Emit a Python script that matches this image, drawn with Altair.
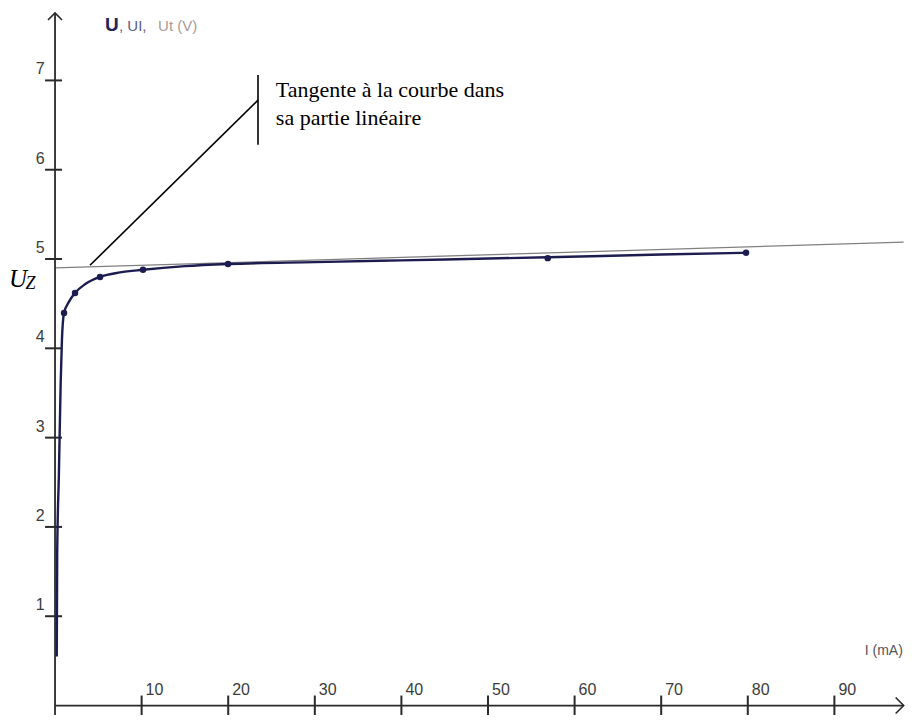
import altair as alt
import pandas as pd

# ---- data ----
I_meas = [1.04, 2.31, 5.2, 10.16, 19.98, 56.9, 79.8]
U_meas = [4.395, 4.62, 4.80, 4.88, 4.944, 5.01, 5.07]

I_curve = [0.2, 0.25, 0.45, 0.65, 0.8, 1.04, 1.6, 2.31, 3.5, 5.2, 7.5, 10.16,
           15, 19.98, 30, 40, 56.9, 70, 79.8]
U_curve = [0.55, 1.7, 2.6, 3.6, 4.1, 4.395, 4.52, 4.62, 4.72, 4.80, 4.85, 4.88,
           4.92, 4.944, 4.965, 4.985, 5.02, 5.05, 5.07]

I_tangent = [0, 98]
U_tangent = [4.90, 5.19]

x_ticks = [10, 20, 30, 40, 50, 60, 70, 80, 90]
y_ticks = [1, 2, 3, 4, 5, 6, 7]

x_title = "I (mA)"
title_parts = ["U", ", UI,", "Ut (V)"]
note_lines = ["Tangente à la courbe dans", "sa partie linéaire"]

W, H = 898, 707
XD = [-5.43, 98.27]
YD = [-0.106, 7.811]

AX = "#2a2a2a"
NAVY = "#1c1c50"
LBL = "#3c3c3c"


def X(f="I"):
    return alt.X(f"{f}:Q", scale=alt.Scale(domain=XD, nice=False, zero=False), axis=None)


def Y(f="U"):
    return alt.Y(f"{f}:Q", scale=alt.Scale(domain=YD, nice=False, zero=False), axis=None)


# axes lines
axes_df = pd.DataFrame({"I": [0, 0], "U": [-0.2, 0], "I2": [0, 98.0], "U2": [7.755, 0]})
axes = alt.Chart(axes_df).mark_rule(color=AX, strokeWidth=1.8).encode(
    x=X(), y=Y(), x2="I2:Q", y2="U2:Q")

arr_y = alt.Chart(pd.DataFrame({"I": [0], "U": [7.755]})).mark_point(
    shape="M-1,1L0,0L1,1", size=196, filled=False, color=AX, strokeWidth=1.6, opacity=1
).encode(x=X(), y=Y())
arr_x = alt.Chart(pd.DataFrame({"I": [98.0], "U": [0]})).mark_point(
    shape="M-1,-1L0,0L-1,1", size=256, filled=False, color=AX, strokeWidth=1.6, opacity=1
).encode(x=X(), y=Y())

# ticks
xt_df = pd.DataFrame({"I": x_ticks, "U": [0] * len(x_ticks), "lab": [str(v) for v in x_ticks]})
yt_df = pd.DataFrame({"I": [-0.17] * len(y_ticks), "U": y_ticks, "lab": [str(v) for v in y_ticks]})
xtick = alt.Chart(xt_df).mark_tick(orient="vertical", size=20, thickness=2, color=AX, opacity=1).encode(x=X(), y=Y())
ytick = alt.Chart(yt_df).mark_tick(orient="horizontal", size=17, thickness=2, color=AX, opacity=1).encode(x=X(), y=Y())
xlab = alt.Chart(xt_df).mark_text(align="left", baseline="alphabetic", dx=4, dy=-11,
                                  font="Liberation Sans", fontSize=16, color=LBL).encode(x=X(), y=Y(), text="lab:N")
ylab = alt.Chart(yt_df).mark_text(align="right", baseline="alphabetic", dx=-9, dy=-6,
                                  font="Liberation Sans", fontSize=16, color=LBL).encode(x=X(), y=Y(), text="lab:N")

xtitle = alt.Chart(pd.DataFrame({"I": [97.9], "U": [0.565], "t": [x_title]})).mark_text(
    align="right", baseline="alphabetic", font="Liberation Sans", fontSize=14, color="#555555"
).encode(x=X(), y=Y(), text="t:N")

# title pieces
t_df = pd.DataFrame({"I": [5.77, 7.39, 11.9], "U": [7.553] * 3, "t": title_parts})
t1 = alt.Chart(t_df.iloc[[0]]).mark_text(align="left", baseline="alphabetic", font="Liberation Sans",
                                          fontSize=19, fontWeight="bold", color="#23235a").encode(x=X(), y=Y(), text="t:N")
t2 = alt.Chart(t_df.iloc[[1]]).mark_text(align="left", baseline="alphabetic", font="Liberation Sans",
                                          fontSize=15, color="#5c5c82").encode(x=X(), y=Y(), text="t:N")
t3 = alt.Chart(t_df.iloc[[2]]).mark_text(align="left", baseline="alphabetic", font="Liberation Sans",
                                          fontSize=15, color="#a89a9a").encode(x=X(), y=Y(), text="t:N")

# tangent & curve
tan = alt.Chart(pd.DataFrame({"I": I_tangent, "U": U_tangent})).mark_line(
    color="#808080", strokeWidth=1.3).encode(x=X(), y=Y())
curve = alt.Chart(pd.DataFrame({"I": I_curve, "U": U_curve})).mark_line(
    color=NAVY, strokeWidth=2.4, interpolate="monotone").encode(x=X(), y=Y(), order="I:Q")
pts = alt.Chart(pd.DataFrame({"I": I_meas, "U": U_meas})).mark_circle(
    color=NAVY, size=42, opacity=1).encode(x=X(), y=Y())

# annotation
ann_df = pd.DataFrame({"I": [4.04, 23.44], "U": [4.93, 7.06], "I2": [23.44, 23.44], "U2": [6.78, 6.28]})
ann = alt.Chart(ann_df).mark_rule(color="#000000", strokeWidth=1.6).encode(
    x=X(), y=Y(), x2="I2:Q", y2="U2:Q")
note_df = pd.DataFrame({"I": [25.5, 25.5], "U": [6.81, 6.50], "t": note_lines})
note = alt.Chart(note_df).mark_text(align="left", baseline="alphabetic", font="Liberation Serif",
                                    fontSize=22, color="#000000").encode(x=X(), y=Y(), text="t:N")

uz_df = pd.DataFrame({"I": [-5.31, -3.4], "U": [4.686, 4.664], "t": ["U", "Z"]})
uz1 = alt.Chart(uz_df.iloc[[0]]).mark_text(align="left", baseline="alphabetic", font="Liberation Serif",
                                            fontSize=25, fontStyle="italic", color="#000000").encode(x=X(), y=Y(), text="t:N")
uz2 = alt.Chart(uz_df.iloc[[1]]).mark_text(align="left", baseline="alphabetic", font="Liberation Serif",
                                            fontSize=18, fontStyle="italic", color="#000000").encode(x=X(), y=Y(), text="t:N")

chart = alt.layer(
    tan, axes, arr_y, arr_x, xtick, ytick, xlab, ylab, xtitle, t1, t2, t3,
    curve, pts, ann, note, uz1, uz2
).properties(
    width=W, height=H, padding=0, autosize=alt.AutoSizeParams(type="none"), background="white"
).configure_view(stroke=None)

chart.save("out.html", embed_options={"renderer": "svg", "actions": False})
